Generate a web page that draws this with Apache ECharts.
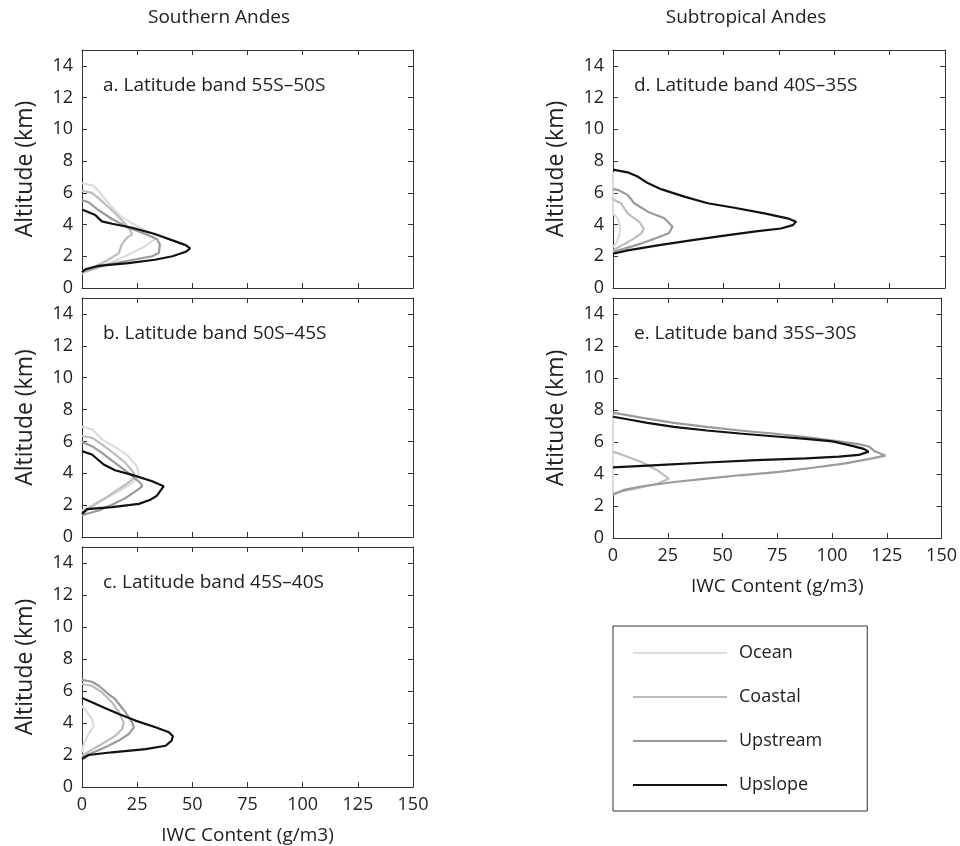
<!DOCTYPE html>
<html>
<head>
<meta charset="utf-8">
<script src="https://cdn.jsdelivr.net/npm/echarts@6/dist/echarts.min.js"></script>
<style>
  html, body { margin: 0; padding: 0; background: #fff; }
  #chart { width: 960px; height: 846px; }
</style>
</head>
<body>
<div id="chart"></div>
<script>
// Ice water content profiles: each point is [IWC (g/m3), altitude (km)]
const seriesNames = ['Ocean', 'Coastal', 'Upstream', 'Upslope'];
const panelTitles = [
  'a. Latitude band 55S\u201350S',
  'b. Latitude band 50S\u201345S',
  'c. Latitude band 45S\u201340S',
  'd. Latitude band 40S\u201335S',
  'e. Latitude band 35S\u201330S'
];
const xTicks = [0, 25, 50, 75, 100, 125, 150];
const yTicks = [0, 2, 4, 6, 8, 10, 12, 14];

// a. 55S-50S
const oceanA = [[0,6.6],[5.3,6.45],[7.6,6.1],[12,5.33],[18,4.47],[25.8,3.83],[32.6,3.4],[33,3.07],[28.8,2.65],[21,2.1],[13.6,1.63],[4.5,1.14],[0,0.92]];
const coastalA = [[0,6.13],[4.5,6.0],[7.6,5.65],[12,5.1],[16.7,4.47],[21,3.83],[22.7,3.4],[20.5,3.18],[18,2.75],[16.7,2.2],[12,1.78],[6,1.35],[1.5,1.07],[0,1.05]];
const upstreamA = [[0,5.55],[3,5.4],[7.6,4.9],[13.6,4.35],[21,3.8],[28.8,3.4],[34,3.07],[35.3,2.75],[34.8,2.2],[31.8,2.0],[21,1.72],[10.6,1.46],[3,1.14],[0,1.03]];
const upslopeA = [[0,4.95],[6,4.6],[9,4.2],[13.6,4.05],[22.7,3.8],[33,3.4],[41,3.0],[47,2.7],[49,2.5],[47,2.28],[41,2.0],[33,1.78],[21,1.57],[7.6,1.4],[1.5,1.18],[0,0.99]];

// b. 50S-45S
const oceanB = [[0,6.93],[4.5,6.76],[9,6.13],[16.7,5.5],[21,5.07],[24.8,4.44],[25.8,3.92],[22.7,3.39],[16.7,2.86],[9,2.34],[3,1.87],[0,1.66]];
const coastalB = [[0,6.34],[4.5,6.23],[9,5.81],[15,5.18],[19.7,4.65],[23.5,4.02],[23.5,3.7],[19.7,3.28],[15,2.86],[10.6,2.44],[4.5,1.92],[0.8,1.5],[0,1.39]];
const upstreamB = [[0,5.96],[4.5,5.7],[9,5.28],[15,4.65],[21,4.02],[26.5,3.39],[27.3,3.18],[24.2,2.86],[19.7,2.44],[13.6,2.02],[7.6,1.66],[1.5,1.43],[0,1.35]];
const upslopeB = [[0,5.39],[4.5,5.18],[9.8,4.55],[15,4.19],[22.7,3.9],[31.8,3.5],[37,3.18],[35.3,2.86],[34,2.6],[31,2.34],[25.8,2.08],[13.6,1.87],[2.3,1.75],[0,1.45]];

// c. 45S-40S
const oceanC = [[0,5.08],[2.3,4.67],[4.5,4.25],[5.3,3.83],[3,3.31],[0.8,2.69],[0,2.17]];
const coastalC = [[0,6.44],[4.5,6.33],[9,5.92],[13.6,5.29],[16.7,4.67],[18.9,4.04],[18.2,3.63],[15.2,3.21],[9,2.69],[3,2.21],[0,1.96]];
const upstreamC = [[0,6.7],[4.5,6.58],[7.6,6.33],[12,5.81],[15,5.5],[19.7,4.67],[22.7,4.04],[23.5,3.73],[21.2,3.31],[16.7,2.9],[10.6,2.48],[4.5,2.13],[0,1.85]];
const upslopeC = [[0,5.56],[4.5,5.3],[10.6,4.92],[16.7,4.56],[24.2,4.15],[33.3,3.73],[39.4,3.42],[41.2,3.17],[40.6,2.9],[37.9,2.58],[28.8,2.37],[13.6,2.17],[3,2.0],[0,1.75]];

// d. 40S-35S
const oceanD = [[0,7.3],[0,4.7],[2.1,4.39],[3.3,3.86],[2.9,3.33],[1.4,2.8],[0,2.58]];
const coastalD = [[0,5.59],[3.6,5.34],[6.6,4.7],[11.9,4.17],[13.9,3.75],[12.7,3.43],[8.1,3.0],[2.1,2.54],[0,2.37]];
const upstreamD = [[0,6.23],[2.1,6.19],[6.6,5.87],[9.6,5.34],[15.7,4.81],[23.2,4.39],[26.9,3.86],[25.3,3.47],[20.2,3.18],[12.7,2.8],[5.1,2.48],[0,2.27]];
const upslopeD = [[0,7.46],[6.6,7.29],[11.1,7.03],[15.7,6.61],[21.7,6.23],[32.2,5.76],[42.8,5.34],[54.8,5.06],[68.4,4.7],[78.9,4.39],[82.7,4.17],[81.2,3.96],[75.9,3.75],[65.4,3.58],[50.3,3.3],[35.2,3.0],[20.2,2.69],[6.6,2.37],[0,2.16]];

// e. 35S-30S
const oceanE = [[0,7.7],[0,2.7]];
const coastalE = [[0,5.4],[6.6,5.08],[12.7,4.77],[20.2,4.24],[25.5,3.71],[20.2,3.39],[9.6,3.07],[2.1,2.86],[0,2.75]];
const upstreamE = [[0,7.84],[12.7,7.52],[27.8,7.2],[42.8,6.95],[57.9,6.72],[73,6.53],[88.1,6.31],[103.2,6.04],[112.2,5.87],[116.7,5.72],[119.8,5.4],[124.3,5.15],[118.3,4.98],[106.2,4.66],[91.1,4.39],[76,4.13],[57.9,3.92],[42.8,3.71],[27.8,3.5],[12.7,3.22],[5.1,3.01],[0,2.71]];
const upslopeE = [[0,7.58],[6.6,7.42],[15.7,7.2],[27.8,6.95],[42.8,6.72],[57.9,6.53],[73,6.36],[88.1,6.19],[100.2,6.04],[109.2,5.76],[114.5,5.57],[116.7,5.4],[112.2,5.19],[103.2,5.08],[88.1,4.98],[65.4,4.87],[42.8,4.72],[20.2,4.56],[0,4.41]];

const panelData = [
  [oceanA, coastalA, upstreamA, upslopeA],
  [oceanB, coastalB, upstreamB, upslopeB],
  [oceanC, coastalC, upstreamC, upslopeC],
  [oceanD, coastalD, upstreamD, upslopeD],
  [oceanE, coastalE, upstreamE, upslopeE]
];

const lineColors = ['#dcdcdc', '#bdbdbd', '#9a9a9a', '#111111'];
const FONT = '"Open Sans", "Noto Sans", sans-serif';
const axisColor = '#333';
const textColor = '#222';

// panel boxes [left, top, width, height]
const boxes = [
  [82, 50, 331, 238],
  [82, 298, 331, 239],
  [82, 547, 331, 240],
  [613, 50, 332, 238],
  [613, 298, 332, 240]
];
const withXLabels = [false, false, true, false, true];

const grids = [], xAxes = [], yAxes = [], series = [], graphics = [];

boxes.forEach(function (b, i) {
  grids.push({ left: b[0], top: b[1], width: b[2], height: b[3], containLabel: false });
  const tick = { show: true, inside: true, length: 5, lineStyle: { color: axisColor, width: 1 } };
  const line = { show: true, onZero: false, lineStyle: { color: axisColor, width: 1 } };
  xAxes.push({
    gridIndex: i, type: 'value', position: 'bottom', min: 0, max: 150, interval: 25,
    axisLine: line, axisTick: tick, splitLine: { show: false },
    axisLabel: { show: withXLabels[i], margin: 9, fontFamily: FONT, fontSize: 18, color: textColor },
    name: withXLabels[i] ? 'IWC Content (g/m3)' : '',
    nameLocation: 'middle', nameGap: 39,
    nameTextStyle: { fontFamily: FONT, fontSize: 19, color: textColor }
  });
  xAxes.push({
    gridIndex: i, type: 'value', position: 'top', min: 0, max: 150, interval: 25,
    axisLine: line, axisTick: tick, splitLine: { show: false }, axisLabel: { show: false }
  });
  yAxes.push({
    gridIndex: i, type: 'value', position: 'left', min: 0, max: 15, interval: 2,
    axisLine: line, axisTick: tick, splitLine: { show: false },
    axisLabel: { show: true, margin: 9, showMaxLabel: false, fontFamily: FONT, fontSize: 18, color: textColor },
    name: 'Altitude (km)', nameLocation: 'middle', nameGap: 45, nameRotate: 90,
    nameTextStyle: { fontFamily: FONT, fontSize: 23, color: textColor }
  });
  yAxes.push({
    gridIndex: i, type: 'value', position: 'right', min: 0, max: 15, interval: 2,
    axisLine: line, axisTick: tick, splitLine: { show: false }, axisLabel: { show: false }
  });

  panelData[i].forEach(function (d, k) {
    series.push({
      name: seriesNames[k], type: 'line', xAxisIndex: 2 * i, yAxisIndex: 2 * i,
      data: d, symbol: 'none', smooth: false, silent: true, animation: false,
      lineStyle: { color: lineColors[k], width: 2.2 }, itemStyle: { color: lineColors[k] }
    });
  });

  graphics.push({
    type: 'text', left: b[0] + 21, top: b[1] + 26,
    style: { text: panelTitles[i], font: '19px ' + FONT, fill: textColor }
  });
});

graphics.push({ type: 'text', x: 219, y: 18, style: { text: 'Southern Andes', font: '19px ' + FONT, fill: textColor, textAlign: 'center', textVerticalAlign: 'middle' } });
graphics.push({ type: 'text', x: 746, y: 18, style: { text: 'Subtropical Andes', font: '19px ' + FONT, fill: textColor, textAlign: 'center', textVerticalAlign: 'middle' } });

const chart = echarts.init(document.getElementById('chart'), null, { renderer: 'canvas' });
chart.setOption({
  animation: false,
  backgroundColor: '#fff',
  grid: grids,
  xAxis: xAxes,
  yAxis: yAxes,
  series: series,
  graphic: graphics,
  legend: {
    data: seriesNames,
    orient: 'vertical',
    left: 613, top: 626,
    padding: [18, 45, 17, 20],
    itemWidth: 94, itemHeight: 14, itemGap: 26,
    borderColor: '#333', borderWidth: 1,
    icon: 'path://M0,6L94,6L94,8L0,8Z',
    textStyle: { fontFamily: FONT, fontSize: 18, color: textColor, padding: [0, 0, 0, 7] },
    selectedMode: false
  }
});
</script>
</body>
</html>
